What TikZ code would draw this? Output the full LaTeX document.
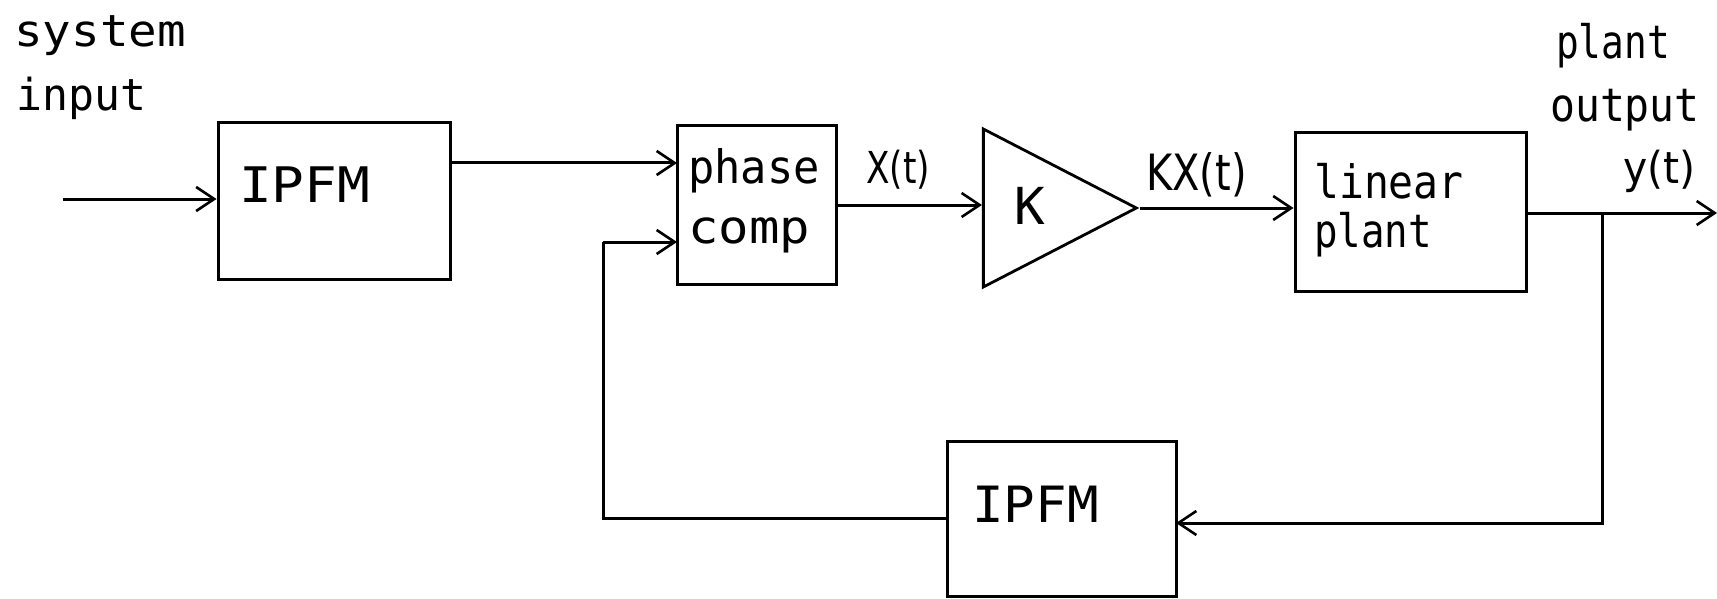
\documentclass[tikz,border=0pt]{standalone}
\usepackage{fontspec}
\setmainfont{DejaVu Sans}
\newfontfamily\monof{DejaVu Sans Mono}
\newfontfamily\propf{DejaVu Sans}
\usetikzlibrary{arrows.meta,shapes.geometric}
\newcommand\lbl[4]{\scalebox{#2}[1]{\fontsize{#1}{#1}\selectfont#4{#3}}}
\begin{document}
\begin{tikzpicture}[x=1pt,y=-1pt,
  blk/.style={draw,line width=3pt,rectangle,inner sep=0pt},
  conn/.style={line width=3pt},
  arr/.style={line width=3pt,-{Straight Barb[length=18pt,width=24pt,line width=2.6pt]}},
  txt/.style={inner sep=0pt,anchor=base west}]
\useasboundingbox (0,0) rectangle (1717,599);
% blocks
\node[blk,minimum width=232pt,minimum height=156pt] (ipfma) at (334,201) {};
\node[blk,minimum width=159pt,minimum height=158pt] (phase) at (756.5,205) {};
\node[draw,line width=2.8pt,isosceles triangle,isosceles triangle stretches,
      minimum width=158pt,minimum height=153pt,inner sep=0pt,anchor=apex] (gain) at (1140,208) {};
\node[blk,minimum width=231pt,minimum height=158pt] (plant) at (1410.5,212) {};
\node[blk,minimum width=229pt,minimum height=155pt] (ipfmb) at (1061.5,518.5) {};
% coordinates
\coordinate (sysin) at (63,199);
\coordinate (inA) at (677,163);
\coordinate (inB) at (677,242);
\coordinate (corner) at (603,242);
\coordinate (branch) at (1602,213);
\coordinate (yout) at (1717,213);
\coordinate (fbin) at (1176,523);
% connectors
\draw[arr] (sysin) -- (sysin -| ipfma.west);
\draw[arr] (ipfma.east |- inA) -- (inA);
\draw[arr] (phase.east) -- (phase.east -| gain.lower side);
\draw[arr] (gain.apex) -- (gain.apex -| plant.west);
\draw[conn] (plant.east |- branch) -- (branch);
\draw[arr] (branch) -- (yout);
\draw[arr] (branch) |- (fbin);
\draw[conn] (ipfmb.west) -| (corner);
\draw[arr] (corner) -- (inB);
% texts
\node[txt] (tsys) at (14,47) {\lbl{44pt}{1.08}{system}{\monof}};
\node[txt] (tin) at (16,111) {\lbl{44pt}{0.98}{input}{\monof}};
\node[txt] (t1) at (239,203) {\lbl{49pt}{1.11}{IPFM}{\monof}};
\node[txt] (tph) at (688,183) {\lbl{46pt}{0.95}{phase}{\monof}};
\node[txt] (tco) at (688,243) {\lbl{46pt}{1.1}{comp}{\monof}};
\node[txt] (tx) at (866,183) {\lbl{44pt}{0.78}{X(t)}{\propf}};
\node[txt] (tk) at (1014,225) {\lbl{51pt}{1}{K}{\monof}};
\node[txt] (tkx) at (1146,190) {\lbl{50pt}{0.8}{KX(t)}{\propf}};
\node[txt] (tli) at (1314,198) {\lbl{46pt}{0.9}{linear}{\monof}};
\node[txt] (tpl) at (1314,247) {\lbl{46pt}{0.85}{plant}{\monof}};
\node[txt] (tpo) at (1556,59) {\lbl{46pt}{0.82}{plant}{\monof}};
\node[txt] (tou) at (1550,122) {\lbl{46pt}{0.9}{output}{\monof}};
\node[txt] (ty) at (1623,183) {\lbl{44pt}{0.93}{y(t)}{\propf}};
\node[txt] (t2) at (972,522) {\lbl{50pt}{1.05}{IPFM}{\monof}};
\end{tikzpicture}
\end{document}
